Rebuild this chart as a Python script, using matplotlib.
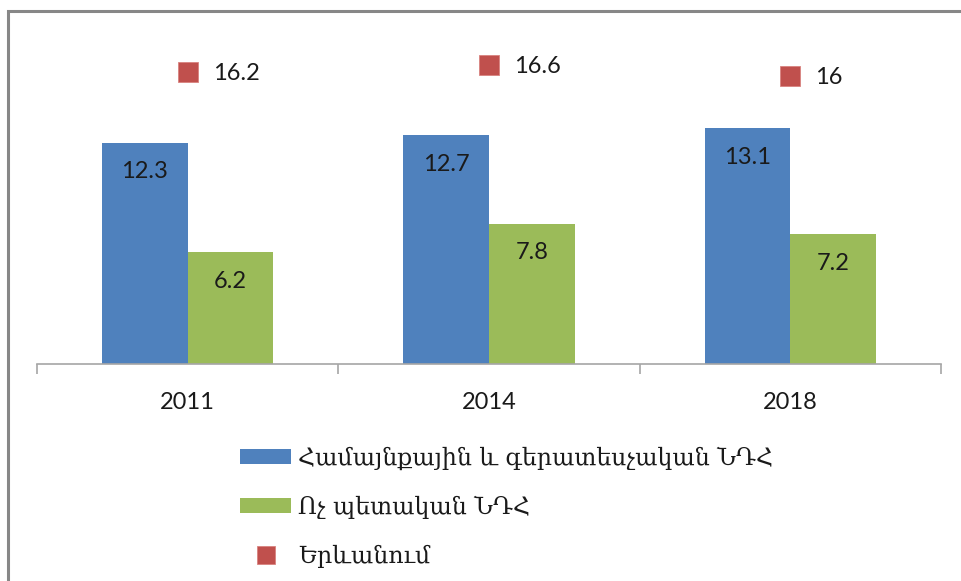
import numpy as np
import matplotlib
matplotlib.use("Agg")
import matplotlib.pyplot as plt
from matplotlib.patches import Rectangle

years = ["2011", "2014", "2018"]
community = [12.3, 12.7, 13.1]
private = [6.2, 7.8, 7.2]
yerevan = [16.2, 16.6, 16]
labels = ["Համայնքային և գերատեսչական ՆԴՀ", "Ոչ պետական ՆԴՀ", "Երևանում"]

blue = "#4F81BD"
green = "#9BBB59"
red = "#C0504D"
num_font = "Lato"

W, H = 962, 581
fig = plt.figure(figsize=(W / 100, H / 100), dpi=100)
ax = fig.add_axes([37 / W, (H - 364) / H, (941 - 37) / W, (364 - 40) / H])

x = np.arange(len(years))
bw = 0.284
b1 = ax.bar(x - bw / 2, community, bw, color=blue, label=labels[0])
b2 = ax.bar(x + bw / 2, private, bw, color=green, label=labels[1])
m, = ax.plot(x, yerevan, linestyle="none", marker="s", markersize=14.5,
             color=red, markeredgecolor="#d9827f", markeredgewidth=0.6, label=labels[2])

for bars, vals in [(b1, community), (b2, private)]:
    for r, v in zip(bars, vals):
        ax.annotate(f"{v:g}", (r.get_x() + r.get_width() / 2, v), xytext=(0, -21),
                    textcoords="offset points", ha="center", va="center",
                    fontsize=17, family=num_font, color="#1a1a1a")
for xi, v in zip(x, yerevan):
    ax.annotate(f"{v:g}", (xi, v), xytext=(18, -1), textcoords="offset points",
                ha="left", va="center", fontsize=17, family=num_font, color="#1a1a1a")

ax.set_xlim(-0.5, 2.5)
ax.set_ylim(0, 18)
ax.set_yticks([])
for s in ["top", "right", "left"]:
    ax.spines[s].set_visible(False)
ax.spines["bottom"].set_color("#a6a6a6")
ax.spines["bottom"].set_linewidth(1.2)
ax.set_xticks(x)
ax.set_xticklabels(years, fontsize=17, family=num_font, color="#1a1a1a")
ax.set_xticks([-0.5, 0.5, 1.5, 2.5], minor=True)
ax.tick_params(axis="x", which="major", length=0, pad=20)
ax.tick_params(axis="x", which="minor", length=7.5, width=1.2, color="#a6a6a6", direction="out")

leg = fig.legend(handles=[b1, b2, m], labels=labels, loc="upper left",
                 bbox_to_anchor=(231 / W, 1 - 437 / H), frameon=False,
                 prop={"family": "DejaVu Serif", "size": 17},
                 handlelength=2.15, handleheight=0.6, handletextpad=0.3,
                 labelspacing=1.1, markerscale=0.85, borderaxespad=0)
for t in leg.get_texts():
    t.set_color("#1a1a1a")

# chart frame (top and left edges visible)
fig.patches.append(Rectangle((8 / W, -0.1), 1.2, 1 - 11 / H + 0.1, transform=fig.transFigure,
                             fill=False, edgecolor="#878787", linewidth=2.2))

fig.savefig("out.png", dpi=100)
